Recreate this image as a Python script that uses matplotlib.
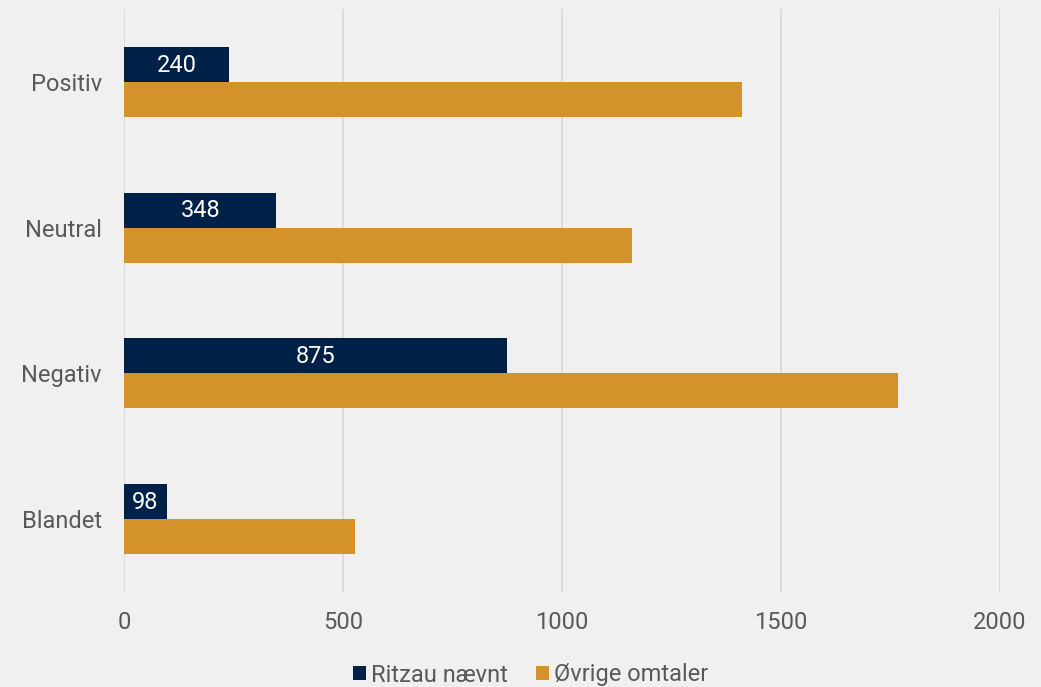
import matplotlib
matplotlib.use("Agg")
import matplotlib.pyplot as plt
import numpy as np

plt.rcParams['font.family'] = ['Roboto', 'DejaVu Sans']

categories = ["Positiv", "Neutral", "Negativ", "Blandet"]
ritzau = [240, 348, 875, 98]
ovrige = [1411, 1160, 1767, 527]
xticks = [0, 500, 1000, 1500, 2000]

navy = "#002147"
orange = "#d4922a"
bg = "#f0f0f0"
txt = "#595959"
fs = 17

fig = plt.figure(figsize=(10.41, 6.87), dpi=100, facecolor=bg)
ax = fig.add_axes([124/1041, 1-592/687, (1000-124)/1041, (592-9)/687])
ax.set_facecolor(bg)

y = np.arange(len(categories))
h = 0.24
b1 = ax.barh(y - h/2, ritzau, height=h, color=navy, label="Ritzau nævnt", zorder=3)
b2 = ax.barh(y + h/2, ovrige, height=h, color=orange, label="Øvrige omtaler", zorder=3)

for rect, v in zip(b1, ritzau):
    ax.text(rect.get_x() + rect.get_width()/2, rect.get_y() + rect.get_height()/2 + 0.005,
            str(v), color="white", ha="center", va="center", fontsize=fs, zorder=4)

ax.set_xlim(0, 2000)
ax.set_ylim(len(categories) - 0.5, -0.5)
ax.set_xticks(xticks)
ax.set_xticklabels([str(t) for t in xticks])
ax.set_yticks(y)
ax.set_yticklabels(categories)
ax.tick_params(axis='both', length=0, labelsize=fs, colors=txt)
ax.tick_params(axis='x', pad=14)
ax.tick_params(axis='y', pad=16)
ax.xaxis.grid(True, color="#d9d9d9", linewidth=1.3, zorder=0)
for s in ax.spines.values():
    s.set_visible(False)

fig.legend(handles=[b1, b2], loc="center", bbox_to_anchor=(0.5 + 10/1041, 1-675/687), ncol=2,
           frameon=False, fontsize=fs, labelcolor=txt, handlelength=0.55, handleheight=0.55,
           handletextpad=0.2, columnspacing=1.2, borderpad=0)

fig.savefig("out.png", dpi=100, facecolor=bg)
